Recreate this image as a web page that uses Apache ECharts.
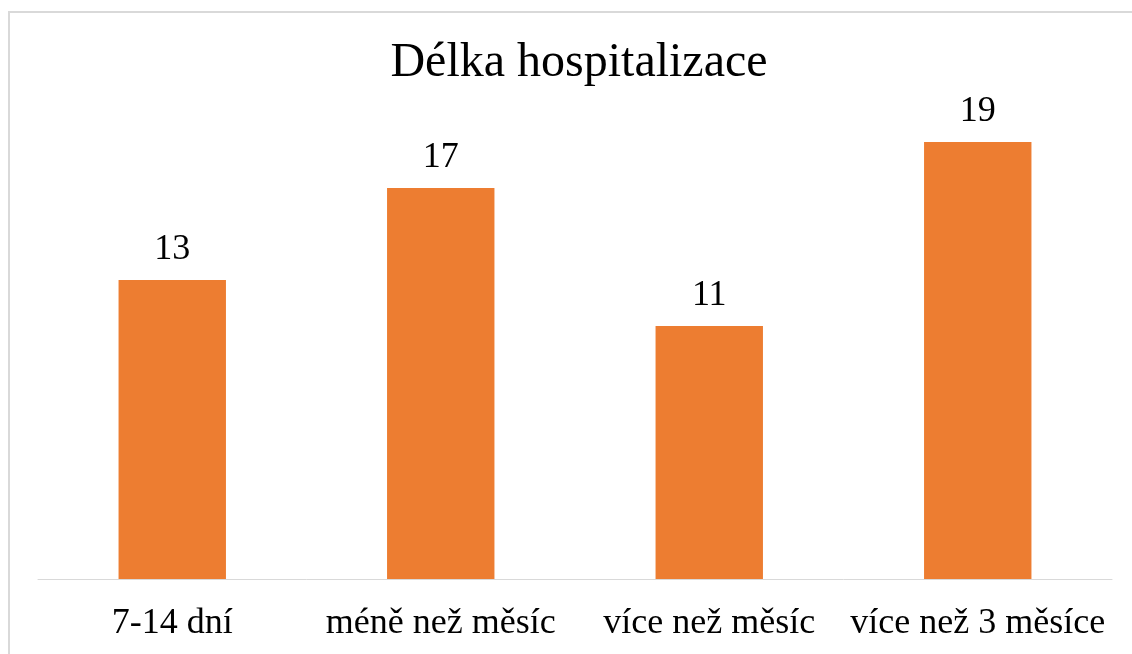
<!DOCTYPE html>
<html>
<head>
  <meta charset="UTF-8">
  <script src="https://cdn.jsdelivr.net/npm/echarts@6/dist/echarts.min.js"></script>
  <style>
    html, body { margin: 0; padding: 0; background: #fff; }
    #main { width: 1132px; height: 654px; }
  </style>
</head>
<body>
  <div id="main"></div>
  <script type="text/javascript">
    var categories = ["7-14 dní", "méně než měsíc", "více než měsíc", "více než 3 měsíce"];
    var values = [13, 17, 11, 19];

    var chart = echarts.init(document.getElementById('main'));
    var option = {
      backgroundColor: '#ffffff',
      textStyle: { fontFamily: 'Liberation Serif' },
      // outer chart border, runs off the right and bottom edges
      graphic: [{
        type: 'rect',
        shape: { x: 9, y: 12, width: 1140, height: 700 },
        style: { fill: 'none', stroke: '#d9d9d9', lineWidth: 2 },
        silent: true
      }],
      title: {
        text: 'Délka hospitalizace',
        left: 574,
        textAlign: 'center',
        top: 34,
        textStyle: {
          fontFamily: 'Liberation Serif',
          fontSize: 48,
          fontWeight: 'normal',
          color: '#000'
        }
      },
      grid: { left: 38, right: 20, top: 119, bottom: 75, containLabel: false },
      xAxis: {
        type: 'category',
        data: categories,
        axisLine: { lineStyle: { color: '#d9d9d9', width: 1 } },
        axisTick: { show: false },
        axisLabel: {
          color: '#000',
          fontFamily: 'Liberation Serif',
          fontSize: 36,
          margin: 27,
          interval: 0
        }
      },
      yAxis: {
        type: 'value',
        min: 0,
        max: 20,
        show: false,
        splitLine: { show: false }
      },
      series: [{
        type: 'bar',
        data: values,
        barWidth: '40%',
        itemStyle: { color: '#ed7d31' },
        label: {
          show: true,
          position: 'top',
          distance: 12,
          color: '#000',
          fontFamily: 'Liberation Serif',
          fontSize: 36
        }
      }]
    };
    chart.setOption(option);
  </script>
</body>
</html>
